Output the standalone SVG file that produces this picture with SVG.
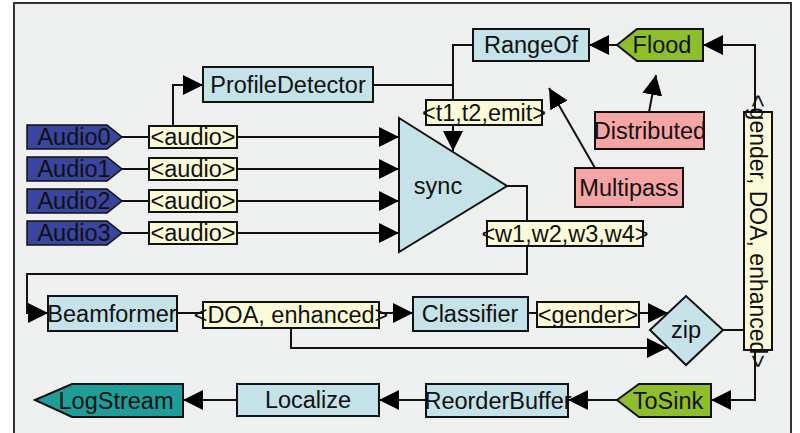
<svg xmlns="http://www.w3.org/2000/svg" width="800" height="433" viewBox="0 0 800 433">
<defs>
<style>
.t{font-family:"Liberation Sans",Arial,sans-serif;font-size:23.5px;fill:#111;text-anchor:middle;dominant-baseline:central}
.n{fill:#C4E2E7;stroke:#111;stroke-width:2}
.lb{fill:#FBFBDA;stroke:#111;stroke-width:2}
.au{fill:#3A459E;stroke:#111;stroke-width:1.5}
.gr{fill:#8EBE2C;stroke:#111;stroke-width:2}
.pk{fill:#F5A5A5;stroke:#111;stroke-width:2}
.tl{fill:#1E9D99;stroke:#111;stroke-width:2}
.e{fill:none;stroke:#111;stroke-width:2}
.a{marker-end:url(#ah)}
</style>
<marker id="ah" markerUnits="userSpaceOnUse" markerWidth="20" markerHeight="20" refX="20" refY="10" orient="auto">
<path d="M0,0 L20,10 L0,20 Z" fill="#000"/>
</marker>
</defs>
<rect x="0" y="0" width="800" height="433" fill="#fff"/>
<rect x="14" y="3" width="777" height="445" fill="#EEF0EF" stroke="#333" stroke-width="2"/>

<g id="connectors">
<path class="e a" d="M122,137 H399"/>
<path class="e a" d="M122,169 H399"/>
<path class="e a" d="M122,201 H399"/>
<path class="e a" d="M122,233 H399"/>
<path class="e a" d="M173,126 V85 H203"/>
<path class="e" d="M373,85 H453"/>
<path class="e a" d="M473,45 H453 V151"/>
<path class="e a" d="M617,45 H589"/>
<path class="e" d="M723,330 H755"/>
<path class="e a" d="M755,230 V45 H703"/>
<path class="e a" d="M755,230 V400 H711"/>
<path class="e a" d="M649,112 L656,75"/>
<path class="e a" d="M595,168 L549,88"/>
<path class="e a" d="M507,186 H527 V274 H27 V313 H48"/>
<path class="e a" d="M177,313 H413"/>
<path class="e a" d="M291,328 V348 H667"/>
<path class="e a" d="M528,313 H668"/>
<path class="e a" d="M617,400 H568"/>
<path class="e a" d="M426,400 H379"/>
<path class="e a" d="M237,400 H183"/>
</g>

<g id="edge-labels">
<rect class="lb" x="149" y="126" width="88" height="22"/><text class="t" x="193" y="137">&lt;audio&gt;</text>
<rect class="lb" x="149" y="158" width="88" height="22"/><text class="t" x="193" y="169">&lt;audio&gt;</text>
<rect class="lb" x="149" y="190" width="88" height="22"/><text class="t" x="193" y="201">&lt;audio&gt;</text>
<rect class="lb" x="149" y="222" width="88" height="22"/><text class="t" x="193" y="233">&lt;audio&gt;</text>
<rect class="lb" x="426" y="100" width="116" height="25"/><text class="t" x="484" y="112.5">&lt;t1,t2,emit&gt;</text>
<rect class="lb" x="487" y="221" width="156" height="25"/><text class="t" x="565" y="233.5">&lt;w1,w2,w3,w4&gt;</text>
<rect class="lb" x="203" y="302" width="176" height="26"/><text class="t" x="291" y="315">&lt;DOA, enhanced&gt;</text>
<rect class="lb" x="537" y="302" width="102" height="25"/><text class="t" x="588" y="314.5">&lt;gender&gt;</text>
<rect class="lb" x="744" y="112" width="28" height="238"/><text class="t" x="0" y="0" transform="translate(758,231) rotate(90)" style="font-size:23px">&lt;gender, DOA, enhanced&gt;</text>
</g>

<g id="Audio0"><path class="au" d="M27,125 H107 L122,137 L107,149 H27 Z"/><text class="t" x="74" y="137">Audio0</text></g>
<g id="Audio1"><path class="au" d="M27,157 H107 L122,169 L107,181 H27 Z"/><text class="t" x="74" y="169">Audio1</text></g>
<g id="Audio2"><path class="au" d="M27,189 H107 L122,201 L107,213 H27 Z"/><text class="t" x="74" y="201">Audio2</text></g>
<g id="Audio3"><path class="au" d="M27,221 H107 L122,233 L107,245 H27 Z"/><text class="t" x="74" y="233">Audio3</text></g>

<g id="ProfileDetector"><rect class="n" x="203" y="67" width="170" height="35"/><text class="t" x="288" y="84.5">ProfileDetector</text></g>
<g id="sync"><polygon class="n" points="399,118 507,186 399,252"/><text class="t" x="438" y="186">sync</text></g>
<g id="RangeOf"><rect class="n" x="473" y="29" width="116" height="32"/><text class="t" x="531" y="45">RangeOf</text></g>
<g id="Flood"><path class="gr" d="M617,45 L637,29 H703 V61 H637 Z"/><text class="t" x="662" y="45">Flood</text></g>
<g id="Distributed"><rect class="pk" x="595" y="112" width="109" height="37"/><text class="t" x="650" y="130.5">Distributed</text></g>
<g id="Multipass"><rect class="pk" x="575" y="168" width="108" height="39"/><text class="t" x="629" y="187.5">Multipass</text></g>
<g id="Beamformer"><rect class="n" x="48" y="296" width="129" height="35"/><text class="t" x="112" y="313.5">Beamformer</text></g>
<g id="Classifier"><rect class="n" x="413" y="297" width="115" height="34"/><text class="t" x="470" y="314">Classifier</text></g>
<g id="zip"><polygon class="n" points="650,330 686,296 723,330 686,365"/><text class="t" x="686" y="330">zip</text></g>
<g id="ToSink"><path class="gr" d="M617,400 L639,384 H711 V417 H639 Z"/><text class="t" x="668" y="400.5">ToSink</text></g>
<g id="ReorderBuffer"><rect class="n" x="426" y="384" width="142" height="33"/><text class="t" x="498" y="400.5">ReorderBuffer</text></g>
<g id="Localize"><rect class="n" x="237" y="384" width="142" height="32"/><text class="t" x="308" y="400">Localize</text></g>
<g id="LogStream"><path class="tl" d="M35,400 L72,384 H183 V417 H72 Z"/><text class="t" x="116" y="400.5">LogStream</text></g>
</svg>
